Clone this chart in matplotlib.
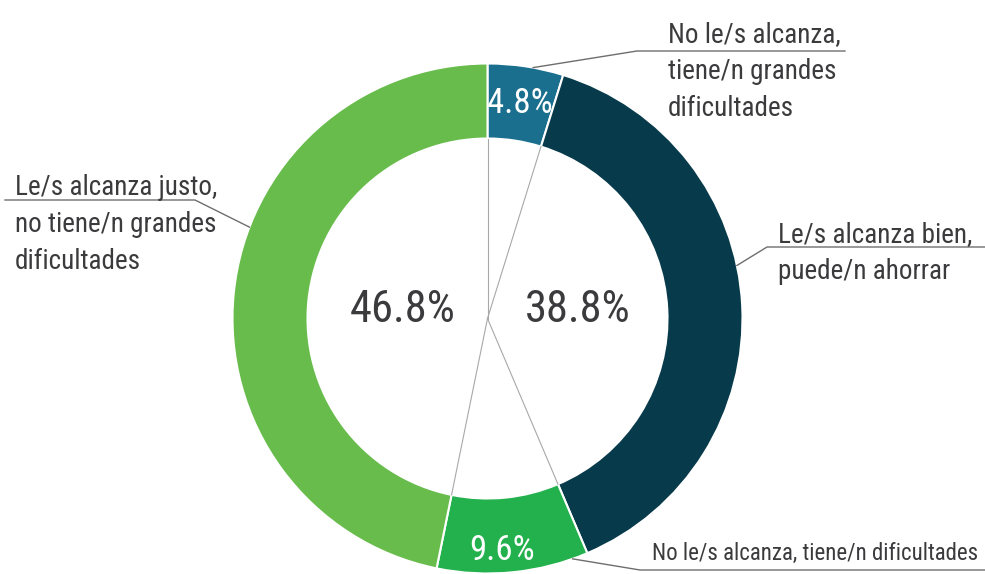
import matplotlib
matplotlib.use("Agg")
import matplotlib.pyplot as plt
from matplotlib import font_manager as fm
import numpy as np

# ---- data ----
categories = ["No le/s alcanza,\ntiene/n grandes\ndificultades",
              "Le/s alcanza bien,\npuede/n ahorrar",
              "No le/s alcanza, tiene/n dificultades",
              "Le/s alcanza justo,\nno tiene/n grandes\ndificultades"]
values = [4.8, 38.8, 9.6, 46.8]
value_labels = ["4.8%", "38.8%", "9.6%", "46.8%"]
colors = ["#1a6f8e", "#073a4a", "#22b14c", "#67bc4b"]

# ---- font choice ----
avail = {f.name for f in fm.fontManager.ttflist}
family = None
stretch = "normal"
for cand in ["Roboto Condensed", "Liberation Sans Narrow", "Open Sans Condensed",
             "DejaVu Sans Condensed", "Noto Sans Condensed"]:
    if cand in avail:
        family = cand
        break
if family is None:
    family = "Roboto" if "Roboto" in avail else "DejaVu Sans"
    stretch = "condensed"
plt.rcParams["font.family"] = [family, "DejaVu Sans"]

W, H = 985, 574
CX, CY, R = 487.5, 318.5, 255.0
RIN = 180.0

fig = plt.figure(figsize=(W / 100, H / 100), dpi=100)
ax = fig.add_axes([0, 0, 1, 1])


def P(x, y):
    return ((x - CX) / R, (CY - y) / R)


wedges, _ = ax.pie(values, colors=colors, startangle=90, counterclock=False,
                   radius=1.0, wedgeprops=dict(width=(R - RIN) / R,
                                               edgecolor="white", linewidth=1.5))
ax.set_aspect("auto")
ax.set_xlim(-CX / R, (W - CX) / R)
ax.set_ylim(-(H - CY) / R, CY / R)
ax.axis("off")

# grey spokes from centre to each boundary
cum = np.cumsum([0] + values)
for c in cum[:-1]:
    ang = np.deg2rad(90 - 360 * c / 100.0)
    r = RIN / R
    ax.plot([0, r * np.cos(ang)], [0, r * np.sin(ang)], color="#a8a8a8", lw=0.8,
            zorder=1)

tcol = "#3b3b3d"
PITCH = 37

# value labels (x centre, baseline y)
vpos = [(520, 113, "white", 25), (578, 322, tcol, 32), (502, 560, "white", 25),
        (403, 322, tcol, 32)]
for lab, (x, y, col, fs) in zip(value_labels, vpos):
    ax.text(*P(x, y), lab, ha="center", va="baseline", color=col, fontsize=fs,
            fontstretch=stretch)

# category labels with leader lines
layout = [
    dict(tx=668, by=42, ang=79.7, elbow=(637, 51), end=(845, 51), fs=19.5),
    dict(tx=778, by=242, ang=12.0, elbow=(767, 247), end=(985, 247), fs=19.5),
    dict(tx=652, by=560, ang=-70.5, elbow=(640, 570), end=(985, 570), fs=16.5),
    dict(tx=15, by=195, ang=159.0, elbow=(195, 200), end=(5, 200), fs=19.5),
]
for cat, L in zip(categories, layout):
    a = np.deg2rad(L["ang"])
    sx, sy = np.cos(a), np.sin(a)
    ex, ey = P(*L["elbow"])
    fx, fy = P(*L["end"])
    ax.plot([sx, ex, fx], [sy, ey, fy], color="#6e6e6e", lw=1.0, zorder=3)
    for i, line in enumerate(cat.split("\n")):
        ax.text(*P(L["tx"], L["by"] + i * PITCH), line, ha="left", va="baseline",
                color=tcol, fontsize=L["fs"], fontstretch=stretch)

fig.savefig("out.png", dpi=100, facecolor="white")
